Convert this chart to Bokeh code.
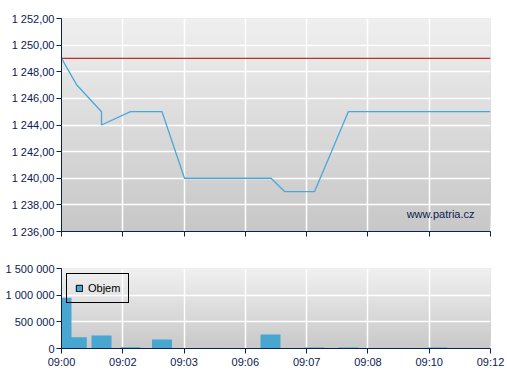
from bokeh.plotting import figure
from bokeh.layouts import column
from bokeh.models import (FixedTicker, Range1d, Span, Label, Legend, LegendItem)
from bokeh.embed import file_html
from bokeh.resources import INLINE

# ---------------- data ----------------
slot_labels = ["09:00", "09:02", "09:03", "09:06", "09:07", "09:08", "09:10", "09:12"]
slot_ticks = [0, 1, 2, 3, 4, 5, 6, 7]

price_x = [0, 0.25, 0.653, 0.653, 1.126, 1.64, 2.007, 3.42, 3.64, 4.13, 4.68, 7.0]
price_y = [1249, 1247, 1245, 1244, 1245, 1245, 1240, 1240, 1239, 1239, 1245, 1245]
ref_price = 1249

price_ticks = [1236, 1238, 1240, 1242, 1244, 1246, 1248, 1250, 1252]
price_tick_labels = ["1 236,00", "1 238,00", "1 240,00", "1 242,00", "1 244,00",
                     "1 246,00", "1 248,00", "1 250,00", "1 252,00"]

vol_x = [0, 0.25, 0.653, 1.126, 1.64, 3.41, 4.13, 4.68, 6.13]
vol_y = [950000, 212000, 244000, 25000, 169000, 262000, 20000, 20000, 20000]
vol_ticks = [0, 500000, 1000000, 1500000]
vol_tick_labels = ["0", "500 000", "1 000 000", "1 500 000"]

# ---------------- style ----------------
FONT = "Liberation Sans"
NAVY = "#0b2150"
BLUE_LINE = "#4aa8d8"
BLUE_BAR = "#47a7d1"
RED = "#c22f28"
W = 507


def gradient(p, y0, y1, top_rgb, bot_rgb, n=60):
    # stacked strips, each reaching the top, so there are no seams
    xs0 = p.x_range.start
    xs1 = p.x_range.end
    step = (y1 - y0) / n
    bottoms, colors = [], []
    for i in range(n):
        t = (i + 0.5) / n  # 0 bottom -> 1 top
        c = tuple(int(round(bot_rgb[k] + (top_rgb[k] - bot_rgb[k]) * t)) for k in range(3))
        bottoms.append(y0 + i * step)
        colors.append("#%02x%02x%02x" % c)
    p.quad(left=xs0, right=xs1, bottom=bottoms, top=y1, fill_color=colors,
           line_color=None, level="image")


def style(p):
    p.toolbar_location = None
    p.outline_line_color = None
    p.background_fill_color = "white"
    p.border_fill_color = "white"
    for ax in p.axis:
        ax.axis_line_color = NAVY
        ax.major_tick_line_color = NAVY
        ax.minor_tick_line_color = None
        ax.major_tick_in = 0
        ax.major_tick_out = 5
        ax.major_label_text_font = FONT
        ax.major_label_text_font_size = "11px"
        ax.major_label_text_color = NAVY
    p.grid.grid_line_color = "white"
    p.grid.grid_line_width = 1.5


# ---------------- price panel ----------------
p1 = figure(width=W, height=240, output_backend="svg", toolbar_location=None,
            x_range=Range1d(0, 7), y_range=Range1d(1236, 1252),
            min_border_left=61, min_border_right=17, min_border_top=18,
            min_border_bottom=9)
style(p1)
gradient(p1, 1236, 1252, (239, 239, 239), (199, 199, 199))
# ticks without labels on the price panel: use minor ticks only
p1.xaxis.ticker = FixedTicker(ticks=[], minor_ticks=slot_ticks)
p1.xaxis.minor_tick_line_color = NAVY
p1.xaxis.minor_tick_in = 0
p1.xaxis.minor_tick_out = 5
p1.xaxis.major_label_standoff = 0
p1.xgrid.ticker = FixedTicker(ticks=slot_ticks)
p1.yaxis.ticker = FixedTicker(ticks=price_ticks)
p1.yaxis.major_label_overrides = {t: l for t, l in zip(price_ticks, price_tick_labels)}
p1.yaxis.major_label_standoff = 2
p1.add_layout(Span(location=ref_price, dimension="width", line_color=RED, line_width=1.2))
p1.line(price_x, price_y, line_color=BLUE_LINE, line_width=1.3)
p1.add_layout(Label(x=7, y=1236, x_offset=-16, y_offset=18, text="www.patria.cz",
                    text_font=FONT, text_font_size="11px", text_color=NAVY,
                    text_align="right", text_baseline="middle"))

# ---------------- volume panel ----------------
p2 = figure(width=W, height=140, output_backend="svg", toolbar_location=None,
            x_range=Range1d(0, 7), y_range=Range1d(0, 1500000),
            min_border_left=61, min_border_right=17, min_border_top=28,
            min_border_bottom=32)
style(p2)
gradient(p2, 0, 1500000, (240, 240, 240), (200, 200, 200))
p2.xaxis.ticker = FixedTicker(ticks=slot_ticks)
p2.xaxis.major_label_overrides = {t: l for t, l in zip(slot_ticks, slot_labels)}
p2.xaxis.major_label_standoff = 2
p2.yaxis.ticker = FixedTicker(ticks=vol_ticks)
p2.yaxis.major_label_overrides = {t: l for t, l in zip(vol_ticks, vol_tick_labels)}
p2.yaxis.major_label_standoff = 2
p2.vbar(x=vol_x, top=vol_y, bottom=0, width=0.326, fill_color=BLUE_BAR, line_color=None)
# legend proxy: one outlined swatch kept outside the visible x range
leg_r = p2.vbar(x=[-1], top=[1], bottom=0, width=0.3, fill_color=BLUE_BAR,
                line_color="black")
legend = Legend(items=[LegendItem(label="Objem", renderers=[leg_r])],
                location="top_left", margin=5, padding=8, spacing=0,
                glyph_width=8, glyph_height=8, label_height=12, label_standoff=5,
                label_text_font=FONT, label_text_font_size="11px", label_text_color="black",
                label_text_baseline="middle",
                border_line_color="black", border_line_width=1.2, border_line_alpha=1.0,
                background_fill_alpha=0)
p2.add_layout(legend)

layout = column(p1, p2, spacing=0)
open("out.html", "w").write(file_html(layout, INLINE))
